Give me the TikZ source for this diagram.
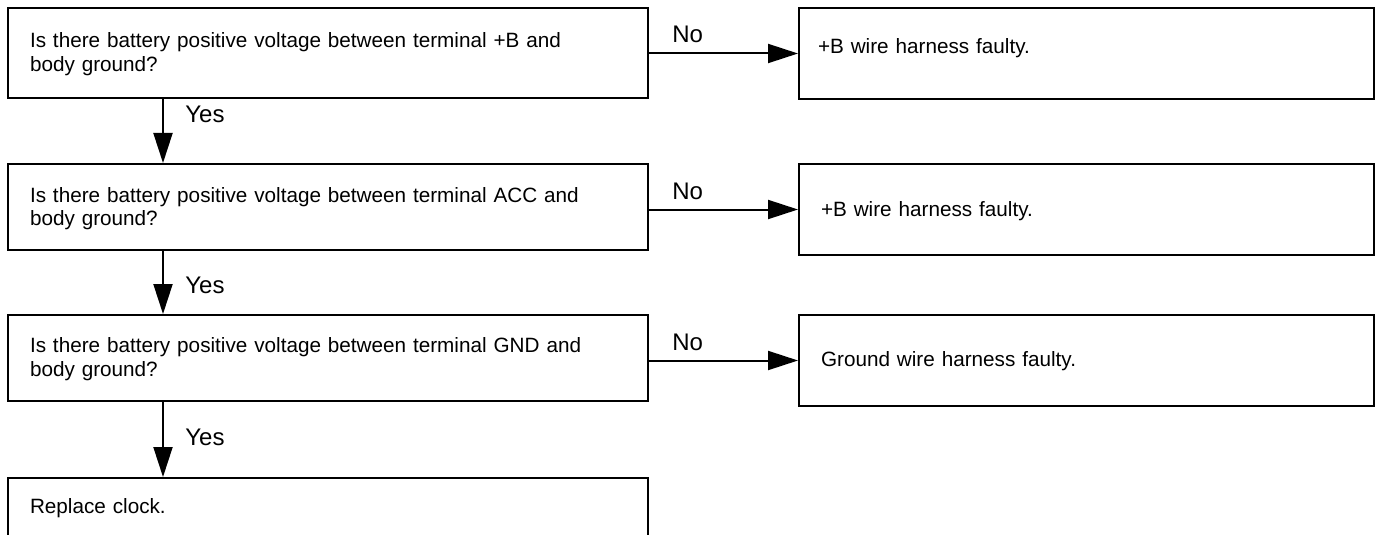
\documentclass[tikz,border=0pt]{standalone}
\usepackage{fontspec}
\setmainfont{Liberation Sans}
\usetikzlibrary{arrows.meta}
\begin{document}
\begin{tikzpicture}[x=0.5pt,y=-0.5pt,
  box/.style={draw=black, line width=1pt, rectangle, anchor=north west,
    inner xsep=11pt, inner ysep=0pt, align=left,
    font=\fontsize{10.35}{12}\selectfont},
  qbox/.style={box, text width=298pt, minimum width=320pt},
  rbox/.style={box, text width=265.5pt, minimum width=287.5pt},
  arr/.style={draw=black, line width=1pt, -{Triangle[length=15pt,width=9.5pt]}},
  lbl/.style={anchor=base west, inner sep=0pt, font=\fontsize{12}{14}\selectfont}
]
\useasboundingbox (0,0) rectangle (1382,535);
% question boxes
\node[qbox, text height=20pt, text depth=25pt] (q1) at (7,7)
  {Is there battery positive voltage between terminal +B and\\body ground?};
\node[qbox, text height=19pt, text depth=24pt] (q2) at (7,163)
  {Is there battery positive voltage between terminal ACC and\\body ground?};
\node[qbox, text height=18.5pt, text depth=24.5pt] (q3) at (7,314)
  {Is there battery positive voltage between terminal GND and\\body ground?};
\node[qbox, text height=17.5pt, text depth=40pt] (q4) at (7,477)
  {Replace clock.};
% result boxes
\node[rbox, inner xsep=9.5pt, text width=268.5pt, text height=23pt, text depth=22.5pt] (r1) at (798,7)
  {+B wire harness faulty.};
\node[rbox, text height=26pt, text depth=19.5pt] (r2) at (798,163)
  {+B wire harness faulty.};
\node[rbox, text height=25.5pt, text depth=20pt] (r3) at (798,314)
  {Ground wire harness faulty.};
% vertical Yes arrows
\coordinate (vx) at (163,0);
\draw[arr] (q1.south -| vx) -- (q2.north -| vx);
\draw[arr] (q2.south -| vx) -- (q3.north -| vx);
\draw[arr] (q3.south -| vx) -- (q4.north -| vx);
\node[lbl] (y1) at (185,123) {Yes};
\node[lbl] (y2) at (185,293) {Yes};
\node[lbl] (y3) at (185,445) {Yes};
% horizontal No arrows
\draw[arr] (q1.east |- r1.west) -- (r1.west);
\draw[arr] (q2.east |- r2.west) -- (r2.west);
\draw[arr] (q3.east |- r3.west) -- (r3.west);
\node[lbl] (n1) at (672,43) {No};
\node[lbl] (n2) at (672,199) {No};
\node[lbl] (n3) at (672,350) {No};
\end{tikzpicture}
\end{document}
